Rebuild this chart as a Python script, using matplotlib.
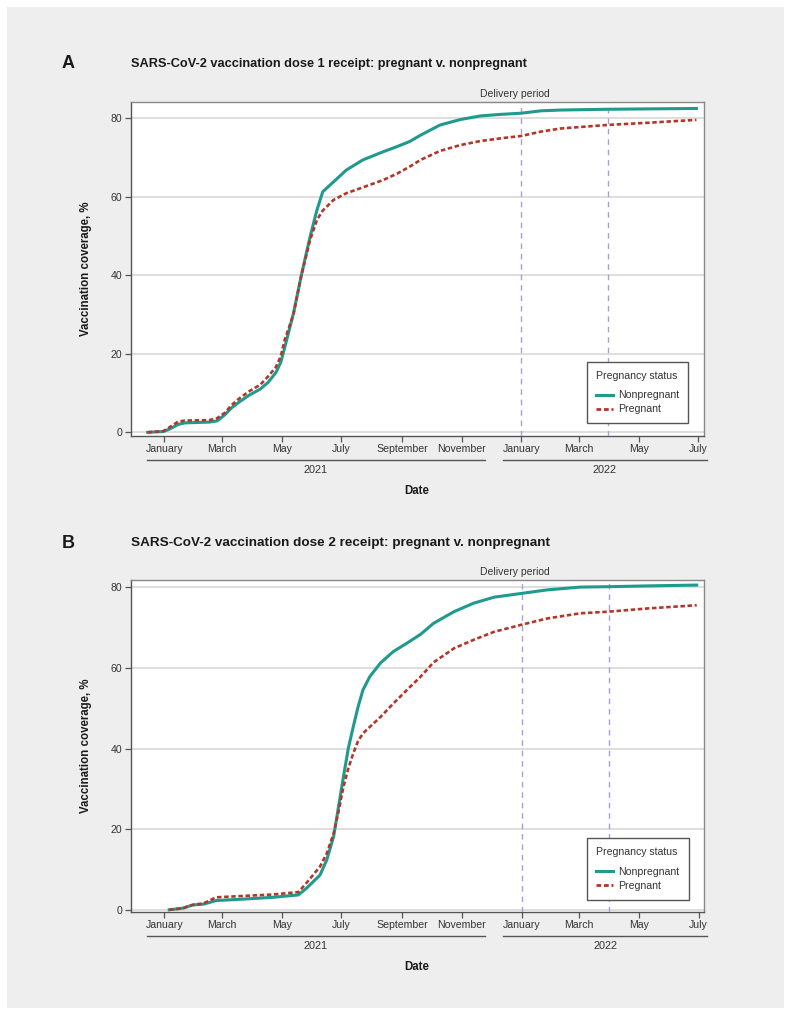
import matplotlib
matplotlib.use('Agg')
import matplotlib.pyplot as plt
import matplotlib.transforms as mtransforms
from matplotlib.patches import Rectangle
from matplotlib.lines import Line2D
import pandas as pd

plt.rcParams['font.family'] = ['Liberation Sans', 'DejaVu Sans']

# ---- data ----
dates_a = pd.to_datetime([
    '2020-12-15', '2020-12-31', '2021-01-07', '2021-01-15', '2021-01-22', '2021-02-16',
    '2021-02-24', '2021-03-04', '2021-03-11', '2021-03-19', '2021-03-29', '2021-04-09',
    '2021-04-17', '2021-04-25', '2021-04-30', '2021-05-04', '2021-05-13', '2021-05-21',
    '2021-05-30', '2021-06-06', '2021-06-12', '2021-06-23', '2021-07-06', '2021-07-23',
    '2021-08-13', '2021-08-27', '2021-09-09', '2021-09-20', '2021-10-10', '2021-10-31',
    '2021-11-20', '2021-12-11', '2022-01-01', '2022-01-21', '2022-02-10', '2022-03-30',
    '2022-05-13', '2022-06-29'])
nonpreg_a = [0, 0.2, 0.9, 2.0, 2.4, 2.6, 2.9, 4.5, 6.3, 7.8, 9.5, 11.0, 12.7, 15.2, 17.8,
             21.5, 30.3, 39.9, 49.8, 56.6, 61.3, 63.8, 66.8, 69.4, 71.5, 72.8, 74.1, 75.7,
             78.3, 79.7, 80.6, 81.0, 81.3, 81.9, 82.1, 82.3, 82.4, 82.5]
preg_a = [0, 0.3, 1.4, 2.7, 3.0, 3.1, 3.6, 5.0, 7.0, 8.7, 10.5, 12.1, 14.2, 16.6, 19.3,
          23.5, 30.0, 39.9, 49.0, 54.1, 56.5, 59.2, 60.9, 62.4, 64.3, 65.9, 67.7, 69.4,
          71.7, 73.2, 74.2, 74.9, 75.5, 76.6, 77.4, 78.3, 78.9, 79.6]

dates_b = pd.to_datetime([
    '2021-01-06', '2021-01-20', '2021-01-30', '2021-02-10', '2021-02-23', '2021-03-19',
    '2021-04-22', '2021-05-18', '2021-05-26', '2021-06-09', '2021-06-16', '2021-06-23',
    '2021-06-28', '2021-07-03', '2021-07-08', '2021-07-13', '2021-07-18', '2021-07-23',
    '2021-07-30', '2021-08-10', '2021-08-23', '2021-09-06', '2021-09-20', '2021-10-03',
    '2021-10-24', '2021-11-13', '2021-12-04', '2021-12-31', '2022-01-27', '2022-03-02',
    '2022-03-31', '2022-05-10', '2022-06-29'])
nonpreg_b = [0, 0.4, 1.2, 1.4, 2.3, 2.6, 3.1, 3.7, 5.3, 8.6, 12.4, 18.2, 25.6, 33.0, 40.1,
             45.4, 50.4, 54.6, 57.9, 61.3, 64.1, 66.2, 68.4, 71.1, 74.0, 76.1, 77.6, 78.5,
             79.4, 80.1, 80.2, 80.4, 80.6]
preg_b = [0, 0.4, 1.2, 1.6, 3.1, 3.4, 3.8, 4.4, 6.6, 10.7, 14.0, 19.0, 24.4, 30.5, 35.1,
          38.8, 41.9, 43.8, 45.4, 47.9, 51.2, 54.6, 57.9, 61.4, 64.9, 67.0, 69.0, 70.7,
          72.3, 73.6, 74.0, 74.8, 75.6]

panels = ['A', 'B']
titles = ['SARS-CoV-2 vaccination dose 1 receipt: pregnant v. nonpregnant',
          'SARS-CoV-2 vaccination dose 2 receipt: pregnant v. nonpregnant']
series_names = ['Nonpregnant', 'Pregnant']
month_ticks = pd.date_range('2021-01-01', '2022-07-01', freq='2MS')
month_labels = [d.strftime('%B') for d in month_ticks]
years = ['2021', '2022']
year_spans = [('2020-12-14', '2021-11-25'), ('2021-12-13', '2022-07-10')]
delivery = pd.to_datetime(['2022-01-01', '2022-03-31'])

teal = '#1f9a8c'
red = '#b3362b'
lavender = '#ae9ad8'
txt = '#333333'

W, H = 791, 1015
fig = plt.figure(figsize=(W / 100, H / 100), dpi=100)
fig.patch.set_facecolor('white')
fig.patches.append(Rectangle((7 / W, 7 / H), 777 / W, 1001 / H, transform=fig.transFigure,
                             facecolor='#edeeed', edgecolor='none', zorder=-10))

# pixel boxes: left, top, right, bottom ; ylim ; title y ; title size
layout = [
    dict(box=(130.5, 102, 703.5, 436), ylim=(-0.94, 84.15), ty=64, tsize=9.2),
    dict(box=(130.5, 580, 703.8, 912.3), ylim=(-0.62, 81.86), ty=543, tsize=9.7),
]
data = [(dates_a, nonpreg_a, preg_a), (dates_b, nonpreg_b, preg_b)]

for i, (lay, (d, nonp, preg)) in enumerate(zip(layout, data)):
    l, t, r, b = lay['box']
    h_px = b - t
    ax = fig.add_axes([l / W, 1 - b / H, (r - l) / W, h_px / H])
    ax.set_facecolor('white')

    ax.plot(d, nonp, color=teal, lw=2.2, zorder=4, label=series_names[0])
    ax.plot(d, preg, color=red, lw=1.9, ls=(0, (1.7, 1.0)), zorder=5, label=series_names[1])

    for x in delivery:
        ax.axvline(x, color=lavender, lw=1.0, ls=(0, (4, 3.5)), zorder=3)

    ax.set_xlim(pd.Timestamp('2020-11-27 10:00'), pd.Timestamp('2022-07-06 06:00'))
    ax.set_ylim(*lay['ylim'])
    ax.set_yticks([0, 20, 40, 60, 80])
    ax.set_xticks(month_ticks)
    ax.set_xticklabels(month_labels)
    ax.grid(axis='y', color='#d4d4d4', lw=1.1, zorder=1)
    ax.set_axisbelow(True)
    ax.tick_params(axis='both', length=4.3, width=0.9, color='#555555', labelsize=7.6,
                   labelcolor=txt, pad=1.5)
    for side, sp in ax.spines.items():
        sp.set_color('#555555' if side in ('left', 'bottom') else '#888888')
        sp.set_linewidth(1.0)

    trans = mtransforms.blended_transform_factory(ax.transData, ax.transAxes)

    # delivery period label
    ax.text(pd.Timestamp('2021-12-25'), 1 + 3 / h_px, 'Delivery period', transform=trans,
            ha='center', va='bottom', fontsize=7.5, color=txt)

    # year brackets
    for (x0, x1), yr in zip(year_spans, years):
        x0, x1 = pd.Timestamp(x0), pd.Timestamp(x1)
        ax.plot([x0, x1], [-23.5 / h_px] * 2, transform=trans, color='#555555', lw=1.0,
                clip_on=False)
        ax.text(x0 + (x1 - x0) / 2, -34 / h_px, yr, transform=trans, ha='center',
                va='center', fontsize=7.8, color=txt)

    ax.text(0.5, -55 / h_px, 'Date', transform=ax.transAxes, ha='center', va='center',
            fontsize=8.3, fontweight='bold', color='#1a1a1a')
    ax.text(-45 / (r - l), 0.5, 'Vaccination coverage, %', transform=ax.transAxes,
            rotation=90, ha='center', va='center', fontsize=8.3, fontweight='bold',
            color='#1a1a1a')

    # panel letter and title
    fig.text(62 / W, 1 - lay['ty'] / H, panels[i], ha='left', va='center', fontsize=13,
             fontweight='bold', color='#1a1a1a')
    fig.text(131 / W, 1 - lay['ty'] / H, titles[i], ha='left', va='center',
             fontsize=lay['tsize'], fontweight='bold', color='#1a1a1a')

    handles = [Line2D([], [], color=teal, lw=2.2),
               Line2D([], [], color=red, lw=2.0, ls=(0, (1.7, 1.0)))]
    leg = ax.legend(handles, series_names, title='Pregnancy status', loc='lower right',
                    bbox_to_anchor=(0.9735, 12.8 / h_px), borderaxespad=0, fancybox=False,
                    framealpha=1, edgecolor='#555555', fontsize=7.6, title_fontsize=7.6,
                    alignment='left', handlelength=1.6, handletextpad=0.5, borderpad=0.85,
                    labelspacing=0.37)
    leg._legend_box.sep = 6.7
    leg.get_frame().set_linewidth(1.0)
    leg.get_title().set_color(txt)
    for tx in leg.get_texts():
        tx.set_color(txt)

fig.savefig('out.png', dpi=100)
